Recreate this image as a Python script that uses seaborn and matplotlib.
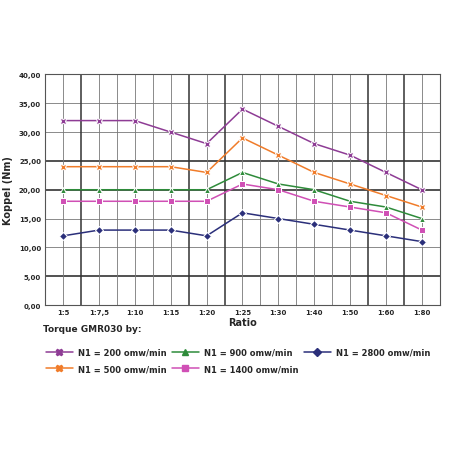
import pandas as pd
import numpy as np
import matplotlib
matplotlib.use("Agg")
import matplotlib.pyplot as plt
import seaborn as sns
sns.set_style("white")

ratios = ["1:5", "1:7,5", "1:10", "1:15", "1:20", "1:25", "1:30", "1:40", "1:50", "1:60", "1:80"]
n200 = [32, 32, 32, 30, 28, 34, 31, 28, 26, 23, 20]
n500 = [24, 24, 24, 24, 23, 29, 26, 23, 21, 19, 17]
n900 = [20, 20, 20, 20, 20, 23, 21, 20, 18, 17, 15]
n1400 = [18, 18, 18, 18, 18, 21, 20, 18, 17, 16, 13]
n2800 = [12, 13, 13, 13, 12, 16, 15, 14, 13, 12, 11]
series = ["N1 = 200 omw/min", "N1 = 500 omw/min", "N1 = 900 omw/min",
          "N1 = 1400 omw/min", "N1 = 2800 omw/min"]

rows = []
for name, vals in zip(series, [n200, n500, n900, n1400, n2800]):
    for i, v in enumerate(vals):
        rows.append({"pos": i, "Koppel": v, "serie": name})
df = pd.DataFrame(rows)

colors = ["#8e3c95", "#f07c2a", "#2e8b3a", "#d04fb5", "#2b2f7a"]
markers = {series[0]: "X", series[1]: "X", series[2]: "^", series[3]: "s", series[4]: "D"}

fig = plt.figure(figsize=(4.52, 4.52), dpi=100)
ax = fig.add_axes([0.10, 0.323, 0.873, 0.51])
sns.lineplot(data=df, x="pos", y="Koppel", hue="serie", style="serie",
             markers=markers, dashes=False, palette=colors, ax=ax,
             linewidth=1.1, markersize=4.5, legend=False)

# grid
for y in range(5, 45, 5):
    strong = y in (5, 20, 25)
    ax.axhline(y, color="#333333" if strong else "#777777",
               lw=1.2 if strong else 0.6, zorder=0)
for i in range(len(ratios)):
    ax.axvline(i, color="#777777", lw=0.6, zorder=0)
    strong = i in (0, 3, 4, 8, 9)
    ax.axvline(i + 0.5, color="#333333" if strong else "#777777",
               lw=1.1 if strong else 0.6, zorder=0)

ax.set_xlim(-0.5, len(ratios) - 0.5)
ax.set_ylim(0, 40)
ax.set_xticks(range(len(ratios)))
ax.set_xticklabels(ratios, fontsize=5, fontweight="bold")
ax.set_yticks(range(0, 45, 5))
ax.set_yticklabels([f"{v},00" for v in range(0, 45, 5)], fontsize=5, fontweight="bold")
ax.set_xlabel("Ratio", fontsize=7, fontweight="bold", labelpad=1)
ax.set_ylabel("Koppel (Nm)", fontsize=7, fontweight="bold", labelpad=4)
ax.tick_params(length=0, pad=3)
for s in ax.spines.values():
    s.set_color("#555555")
    s.set_linewidth(0.8)

fig.text(0.095, 0.265, "Torque GMR030 by:", fontsize=6.5, fontweight="bold")
handles = [plt.Line2D([], [], color=c, marker=markers[n], markersize=4.5, lw=1.1)
           for n, c in zip(series, colors)]
fig.legend(handles, series,
           loc="upper left", bbox_to_anchor=(0.085, 0.245), ncol=3, frameon=False,
           prop={"size": 6, "weight": "bold"}, handlelength=3.2, handletextpad=0.6,
           columnspacing=0.7, labelspacing=0.9)

fig.savefig("out.png", dpi=100)
